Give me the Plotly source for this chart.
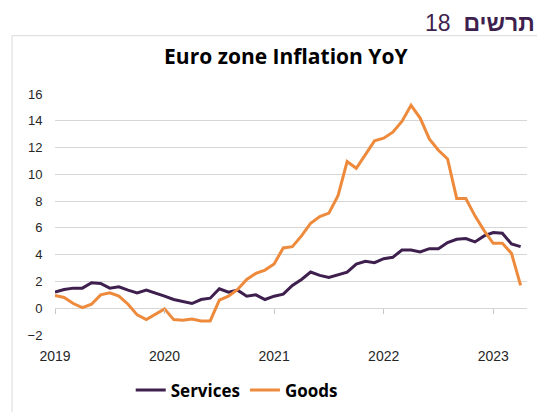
import plotly.graph_objects as go

# monthly, Jan 2019 .. Apr 2023 (index 0 = Jan 2019)
months = list(range(52))

services = [1.2, 1.4, 1.5, 1.5, 1.9, 1.85, 1.5, 1.6, 1.35, 1.15, 1.35, 1.15,
            0.9, 0.65, 0.5, 0.35, 0.65, 0.75, 1.45, 1.2, 1.35, 0.9, 1.0, 0.65,
            0.9, 1.05, 1.7, 2.15, 2.7, 2.45, 2.3, 2.5, 2.7, 3.3, 3.5, 3.4,
            3.7, 3.8, 4.35, 4.35, 4.2, 4.45, 4.45, 4.9, 5.15, 5.2, 4.95, 5.4,
            5.65, 5.6, 4.8, 4.6]

goods = [0.95, 0.8, 0.35, 0.05, 0.3, 1.0, 1.15, 0.9, 0.3, -0.5, -0.85, -0.45,
         -0.05, -0.85, -0.9, -0.8, -0.95, -0.95, 0.6, 0.9, 1.4, 2.15, 2.6, 2.85,
         3.3, 4.5, 4.6, 5.4, 6.35, 6.85, 7.1, 8.4, 10.95, 10.45, 11.45, 12.5,
         12.7, 13.15, 13.95, 15.15, 14.2, 12.65, 11.8, 11.15, 8.2, 8.2, 6.9, 5.8,
         4.85, 4.85, 4.1, 1.7]

year_ticks = [0, 12, 24, 36, 48]
year_labels = ["2019", "2020", "2021", "2022", "2023"]

fig = go.Figure()
fig.add_trace(go.Scatter(x=months, y=services, name="<b>Services</b>", mode="lines",
                         line=dict(color="#3e1f4e", width=3)))
fig.add_trace(go.Scatter(x=months, y=goods, name="<b>Goods</b>", mode="lines",
                         line=dict(color="#ee8a3c", width=3)))
# invisible trace so the tick-mark axis at y=0 gets drawn
fig.add_trace(go.Scatter(x=[0], y=[0], xaxis="x2", mode="markers",
                         marker=dict(opacity=0), showlegend=False, hoverinfo="skip"))

# page body has an 8px margin, so the figure is 8px smaller than the window
fig.update_layout(
    width=537, height=404,
    margin=dict(l=47, r=18, t=86, b=77, autoexpand=False),
    paper_bgcolor="white", plot_bgcolor="white",
    showlegend=True,
    title=dict(text="<b>Euro zone Inflation YoY</b>", xref="paper", x=0.489,
               xanchor="center", yref="container", y=0.879, yanchor="middle",
               font=dict(family="Open Sans", size=21, color="black")),
    xaxis=dict(range=[0, 51.7], tickvals=year_ticks, ticktext=year_labels,
               showgrid=False, zeroline=False, showline=False,
               ticks="outside", ticklen=8, tickcolor="rgba(0,0,0,0)",
               tickfont=dict(family="Liberation Sans", size=14, color="#262626")),
    xaxis2=dict(overlaying="x", anchor="free", position=2 / 18, matches="x",
                tickvals=year_ticks, showticklabels=False, showgrid=False,
                zeroline=False, showline=False, ticks="outside", ticklen=5,
                tickcolor="#c8c8c8", tickwidth=1),
    yaxis=dict(range=[-2, 16], dtick=2, showgrid=True, gridcolor="#d6d6d6",
               gridwidth=1, zeroline=False, showline=False,
               ticks="outside", ticklen=9, tickcolor="rgba(0,0,0,0)",
               tickfont=dict(family="Liberation Sans", size=13, color="#262626")),
    legend=dict(orientation="h", x=0.385, xanchor="center", y=-0.23, yanchor="middle",
                font=dict(family="Open Sans", size=17, color="black"),
                itemwidth=30, tracegroupgap=0),
    shapes=[dict(type="rect", xref="paper", yref="paper",
                 x0=-0.091, x1=1.026, y0=-0.4, y1=1.242,
                 line=dict(color="#d9d9d9", width=1))],
    annotations=[dict(text="18\u00a0\u00a0<b>תרשים</b>", xref="paper", yref="paper",
                      x=1.02, y=1.2956, xanchor="right", yanchor="middle",
                      showarrow=False, borderpad=0,
                      font=dict(family="Liberation Sans", size=23, color="#3e1f4e"))],
)

fig.write_html("out.html")
